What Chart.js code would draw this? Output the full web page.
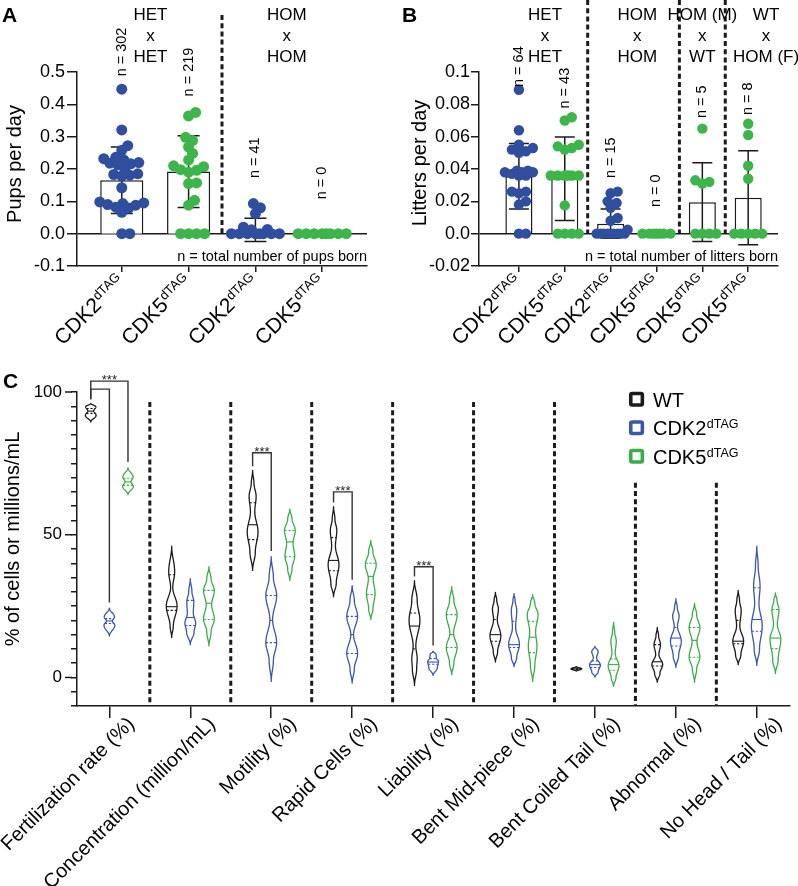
<!DOCTYPE html>
<html><head><meta charset="utf-8">
<script src="https://cdn.jsdelivr.net/npm/chart.js@4.4.1/dist/chart.umd.min.js"></script>
<style>
html,body{margin:0;padding:0;background:#fff;}
body{width:798px;height:886px;position:relative;overflow:hidden;}
canvas{position:absolute;}
</style></head>
<body>
<canvas id="cC" width="798" height="546" style="left:0;top:340px;width:798px;height:546px"></canvas>
<canvas id="cA" width="400" height="360" style="left:0;top:0;width:400px;height:360px"></canvas>
<canvas id="cB" width="398" height="360" style="left:400px;top:0;width:398px;height:360px"></canvas>
<script>
// ================= DATA =================
// Panel A : pups per day
const pupGenes = ['CDK2', 'CDK5', 'CDK2', 'CDK5'];
const tagSup = 'dTAG';
const pupCrosses = [['HET', 'x', 'HET'], ['HOM', 'x', 'HOM']];
const pupCounts = ['n = 302', 'n = 219', 'n = 41', 'n = 0'];
const pupMean = [0.165, 0.192, 0.012, 0];
const pupSD = [0.103, 0.111, 0.036, 0];
const pupsCDK2HET = [0.447, 0.321, 0.272, 0.258, 0.236, 0.232, 0.228, 0.22, 0.218, 0.216, 0.213, 0.2, 0.185, 0.183, 0.181, 0.178, 0.142, 0.098, 0.095, 0.093, 0.09, 0.088, 0.082, 0.079, 0.066, 0, 0];
const pupsCDK5HET = [0.375, 0.364, 0.298, 0.288, 0.268, 0.248, 0.228, 0.21, 0.207, 0.198, 0.196, 0.19, 0.157, 0.155, 0.103, 0.088, 0, 0, 0, 0];
const pupsCDK2HOM = [0.093, 0.08, 0.062, 0.02, 0.013, 0.012, 0, 0, 0, 0, 0, 0, 0, 0];
const pupsCDK5HOM = [0, 0, 0, 0, 0, 0, 0, 0];
const pupNote = 'n = total number of pups born';

// Panel B : litters per day
const litterGenes = ['CDK2', 'CDK5', 'CDK2', 'CDK5', 'CDK5', 'CDK5'];
const litterCrosses = [['HET', 'x', 'HET'], ['HOM', 'x', 'HOM'], ['HOM (M)', 'x', 'WT'], ['WT', 'x', 'HOM (F)']];
const litterCounts = ['n = 64', 'n = 43', 'n = 15', 'n = 0', 'n = 5', 'n = 8'];
const litterMean = [0.0355, 0.034, 0.0062, 0, 0.0195, 0.0222];
const litterSD = [0.0202, 0.0258, 0.009, 0, 0.0243, 0.0291];
const littersCDK2HET = [0.089, 0.064, 0.055, 0.053, 0.052, 0.051, 0.05, 0.039, 0.039, 0.038, 0.038, 0.038, 0.037, 0.036, 0.036, 0.026, 0.026, 0.025, 0.02, 0.018, 0, 0];
const littersCDK5HET = [0.072, 0.07, 0.055, 0.054, 0.053, 0.052, 0.036, 0.036, 0.036, 0.036, 0.036, 0.036, 0.0175, 0, 0, 0, 0];
const littersCDK2HOM = [0.026, 0.025, 0.02, 0.019, 0.016, 0.0097, 0.008, 0.0025, 0, 0, 0, 0, 0, 0, 0, 0, 0];
const littersCDK5HOM = [0, 0, 0, 0, 0, 0, 0];
const littersHOMMxWT = [0.065, 0.033, 0.032, 0.031, 0, 0, 0, 0];
const littersWTxHOMF = [0.068, 0.061, 0.042, 0.034, 0, 0, 0, 0, 0];
const litterNote = 'n = total number of litters born';

// Panel C : sperm parameters (violins: [min, Q1, median, Q3, max])
const spermParams = ['Fertilization rate (%)', 'Concentration (million/mL)', 'Motility (%)', 'Rapid Cells (%)', 'Liability (%)', 'Bent Mid-piece (%)', 'Bent Coiled Tail (%)', 'Abnormal (%)', 'No Head / Tail (%)'];
const genotypes = ['WT', 'CDK2', 'CDK5'];
const wtStats = [[89.5, 92.5, 93.3, 94.2, 96], [14, 23.5, 24.8, 36, 46], [37.5, 48.3, 53.5, 61.2, 72.5], [28.3, 37.4, 41, 49, 59.8], [-2.8, 10, 18, 22.6, 33.9], [5.4, 12.7, 15, 20.3, 29.8], [2.2, 2.8, 3, 3.2, 3.8], [-1.7, 4, 5.5, 11.5, 17.5], [4.5, 11.8, 12.7, 20, 30.5]];
const cdk2Stats = [[14.5, 18.9, 19.8, 20.6, 24.3], [11.5, 18.2, 21, 27, 34.6], [-1.4, 12.2, 20, 28.7, 42.3], [-2, 8.4, 15, 21.4, 32.2], [0.7, 4.6, 5.4, 6.6, 9.2], [3.8, 10.5, 11.5, 19.7, 29.4], [0.1, 3.5, 4.5, 5.8, 11], [3.5, 11, 13.8, 17.5, 27.6], [4.2, 16.2, 20.3, 31.4, 46]];
const cdk5Stats = [[64, 67.3, 68.5, 69.8, 73.5], [11, 20.3, 26, 30.5, 38.8], [34, 42.3, 47.5, 51.5, 59], [20.3, 29, 35.4, 40, 48], [1, 10.5, 15, 22, 31.8], [-1.4, 8.7, 14.1, 19.7, 29], [-3.1, 2.5, 4.5, 6.5, 19.3], [-1.7, 7.1, 13, 17.5, 25.9], [1.4, 10.1, 13.8, 23.8, 29.6]];
// relative density: [value, density]
const wtDensity = [[[91.8, 1], [93.4, 0.55], [94.8, 0.95]], [[18, 0.3], [25, 1], [31.5, 0.2], [37, 0.55]], [[44, 0.5], [51, 1], [58, 0.4], [63.5, 0.65], [68, 0.25]], [[33, 0.5], [39.5, 1], [46, 0.35], [51.5, 0.6], [55.5, 0.25]], [[3, 0.4], [6.5, 0.5], [11, 0.25], [20, 1], [27, 0.5]], [[9, 0.4], [14.5, 1], [20.3, 0.35], [24, 0.55], [27, 0.25]], [[3, 1]], [[1.5, 0.5], [4.5, 1], [8, 0.3], [11.5, 0.6], [14.5, 0.25]], [[8, 0.5], [12.7, 1], [18, 0.3], [23.5, 0.55], [27, 0.25]]];
const cdk2Density = [[[18.3, 1], [19.8, 0.55], [21.2, 0.95]], [[16, 0.7], [19, 1], [22.5, 0.55], [26.5, 0.65], [30, 0.3]], [[6, 0.4], [12.2, 1], [20.3, 0.25], [28.7, 1], [35, 0.4]], [[3, 0.4], [8.4, 1], [15, 0.25], [21.4, 1], [27, 0.4]], [[3.5, 0.8], [5.5, 1], [7, 0.6], [8, 0.55]], [[7, 0.5], [11.5, 1], [17.5, 0.3], [23.5, 0.5], [27, 0.2]], [[2, 0.6], [4.3, 1], [7, 0.3], [9, 0.6]], [[7.5, 0.5], [12.7, 1], [18, 0.3], [21.5, 0.6], [24.5, 0.25]], [[10, 0.5], [18, 1], [26, 0.4], [32, 0.6], [39, 0.25]]];
const cdk5Density = [[[67, 1], [68.5, 0.55], [70.2, 0.95]], [[16, 0.4], [20.5, 1], [25.5, 0.5], [30.5, 1], [34.5, 0.4]], [[38, 0.4], [42.5, 0.9], [47, 0.6], [51.5, 1], [55.5, 0.4]], [[24, 0.4], [29.5, 0.8], [34.5, 0.45], [39.5, 1], [44, 0.4]], [[5, 0.4], [10.5, 1], [15.5, 0.35], [22, 1], [27, 0.4]], [[4, 0.4], [11, 0.8], [16, 0.55], [22, 1], [26, 0.4]], [[0, 0.45], [4, 1], [8.5, 0.3], [12.7, 0.5], [16, 0.2]], [[3, 0.4], [7.1, 1], [12.5, 0.45], [17.5, 1], [22, 0.4]], [[6, 0.5], [13.5, 1], [18.5, 0.35], [23.8, 0.65], [27, 0.3]]];
// significance (WT vs. genotype within a parameter)
const sigParam = [0, 0, 2, 3, 4];
const sigVersus = ['CDK2', 'CDK5', 'CDK2', 'CDK2', 'CDK2'];
const sigLevel = [101, 103.8, 78.7, 65, 38.8];
const sigStars = ['', '***', '***', '***', '***'];

// ================= STYLE / HELPERS =================
const FONT = '"Liberation Sans", Arial, Helvetica, sans-serif';
const INK = '#1b1b1b';
const BLUE = '#2F4E9E', GREEN = '#3DB54A';
const BLUE_V = '#3A57A8', GREEN_V = '#39AE48';
Chart.defaults.font.family = FONT;
Chart.defaults.color = '#000';

function font(size, weight) { return (weight || '') + ' ' + size + 'px ' + FONT; }

function swarm(values, center, pxX, pxY, minDist, maxHalf) {
  const placed = [];
  const order = values.map((v, i) => ({ v, i })).sort((a, b) => a.v - b.v);
  const out = new Array(values.length);
  for (const { v, i } of order) {
    let best = 0, bestD = -1;
    for (let k = 0; k <= 2 * maxHalf; k++) {
      const off = (k % 2 ? 1 : -1) * Math.ceil(k / 2);
      let dmin = Infinity;
      for (const p of placed) dmin = Math.min(dmin, Math.hypot(off - p.off, (v - p.v) * pxY));
      if (dmin >= minDist) { best = off; bestD = dmin; break; }
      if (dmin > bestD) { bestD = dmin; best = off; }
    }
    placed.push({ off: best, v });
    out[i] = { x: center + best / pxX, y: v };
  }
  return out;
}

function supText(ctx, x, y, main, sup, mainSize, supSize, angle, align) {
  ctx.save();
  ctx.translate(x, y);
  ctx.rotate(angle);
  ctx.textBaseline = 'alphabetic';
  ctx.font = font(supSize); const sw = ctx.measureText(sup).width;
  ctx.font = font(mainSize); const mw = ctx.measureText(main).width;
  const x0 = align === 'right' ? -(sw + mw) : 0;
  ctx.textAlign = 'left';
  ctx.fillText(main, x0, 0);
  ctx.font = font(supSize);
  ctx.fillText(sup, x0 + mw + 0.5, -(0.716 * (mainSize - supSize) + 1.5));
  ctx.restore();
}

function dashedV(ctx, x, y0, y1) {
  ctx.save();
  ctx.strokeStyle = INK; ctx.lineWidth = 3; ctx.setLineDash([5, 3.2]);
  ctx.beginPath(); ctx.moveTo(x, y0); ctx.lineTo(x, y1); ctx.stroke();
  ctx.restore();
}

// ================= PANELS A & B =================
function breedingChart(canvasId, cfg) {
  const pxX = cfg.plotW / (cfg.xMax - cfg.xMin);
  const pxY = cfg.plotH / (cfg.yMax - cfg.yMin);
  const dotSets = cfg.dots.map((vals, i) => ({
    type: 'scatter', order: 1,
    data: swarm(vals, i, pxX, pxY, cfg.minDist, cfg.maxHalf),
    pointRadius: cfg.dotR, pointBackgroundColor: cfg.colors[i], pointBorderWidth: 0, pointHoverRadius: cfg.dotR
  }));
  const plugin = {
    id: 'breed' + canvasId,
    afterDatasetDraw(chart, args) {
      if (args.index !== 0) return;
      const { ctx, scales: { x, y } } = chart;
      ctx.save(); ctx.strokeStyle = INK; ctx.lineWidth = 1.5;
      cfg.mean.forEach((m, i) => {
        const sd = cfg.sd[i]; if (!sd) return;
        const px = x.getPixelForValue(i), t = y.getPixelForValue(m + sd), b = y.getPixelForValue(m - sd);
        ctx.beginPath();
        ctx.moveTo(px, t); ctx.lineTo(px, b);
        ctx.moveTo(px - cfg.cap, t); ctx.lineTo(px + cfg.cap, t);
        ctx.moveTo(px - cfg.cap, b); ctx.lineTo(px + cfg.cap, b);
        ctx.stroke();
      });
      ctx.restore();
    },
    afterDraw(chart) {
      const { ctx, scales: { x, y }, chartArea } = chart;
      const zero = y.getPixelForValue(0);
      cfg.seps.forEach(s => dashedV(ctx, x.getPixelForValue(s), cfg.sepTop, zero));
      ctx.save();
      ctx.fillStyle = '#000';
      // cross headers
      ctx.font = font(17); ctx.textAlign = 'center'; ctx.textBaseline = 'middle';
      cfg.crosses.forEach((lines, k) => {
        const px = x.getPixelForValue(cfg.crossPos[k]);
        lines.forEach((t, j) => ctx.fillText(t, px, chartArea.top - 57 + j * 21));
      });
      // n labels
      ctx.font = font(14.5);
      cfg.counts.forEach((t, i) => {
        ctx.save();
        ctx.translate(x.getPixelForValue(i), y.getPixelForValue(cfg.countPos[i]));
        ctx.rotate(-Math.PI / 2);
        ctx.fillText(t, 0, 0);
        ctx.restore();
      });
      // footnote
      ctx.textAlign = 'right'; ctx.font = font(14.5);
      ctx.fillText(cfg.note, chartArea.right, chartArea.bottom - 9);
      // y title
      ctx.save(); ctx.font = font(20); ctx.textAlign = 'center';
      ctx.translate(cfg.titleX, cfg.titleY); ctx.rotate(-Math.PI / 2);
      ctx.fillText(cfg.title, 0, 0); ctx.restore();
      // panel letter
      ctx.font = font(21, 'bold'); ctx.textAlign = 'left'; ctx.textBaseline = 'alphabetic';
      ctx.fillText(cfg.letter, 2, 22);
      // x labels
      cfg.genes.forEach((g, i) => supText(ctx, x.getPixelForValue(i) + 4, chartArea.bottom + 17, g, tagSup, 21, 13, -Math.PI / 4, 'right'));
      ctx.restore();
    }
  };
  return new Chart(document.getElementById(canvasId), {
    type: 'bar',
    data: {
      datasets: [{
        type: 'bar', order: 2,
        data: cfg.mean.map((m, i) => ({ x: i, y: m })),
        backgroundColor: '#fff', borderColor: INK, borderWidth: 1.5,
        barPercentage: cfg.barPct, categoryPercentage: 1
      }].concat(dotSets)
    },
    options: {
      responsive: false, animation: false, devicePixelRatio: 1, events: [],
      layout: { padding: { top: 72, right: cfg.padRight, left: 0, bottom: 0 } },
      plugins: { legend: { display: false }, tooltip: { enabled: false } },
      scales: {
        x: {
          type: 'linear', min: cfg.xMin, max: cfg.xMax, offset: false,
          afterBuildTicks: s => { s.ticks = cfg.genes.map((g, i) => ({ value: i })); },
          ticks: { display: false },
          grid: { drawOnChartArea: false, offset: false, tickLength: 6, tickColor: INK, lineWidth: 1.5 },
          border: { color: INK, width: 1.5 },
          afterFit: s => { s.height = 94; }
        },
        y: {
          min: cfg.yMin, max: cfg.yMax,
          ticks: { stepSize: cfg.step, color: '#000', font: { size: 18 }, padding: cfg.tickPad, callback: cfg.fmt },
          grid: { drawOnChartArea: true, color: c => Math.abs(c.tick.value) < 1e-9 ? INK : 'rgba(0,0,0,0)', tickColor: INK, tickLength: cfg.tickLen, lineWidth: 1.5 },
          border: { color: INK, width: 1.5 },
          afterFit: s => { s.width = cfg.yWidth; }
        }
      }
    },
    plugins: [plugin]
  });
}

breedingChart('cA', {
  genes: pupGenes, crosses: pupCrosses, crossPos: [0.43, 2.47], counts: pupCounts,
  countPos: [0.562, 0.5, 0.235, 0.157], mean: pupMean, sd: pupSD,
  dots: [pupsCDK2HET, pupsCDK5HET, pupsCDK2HOM, pupsCDK5HOM], colors: [BLUE, GREEN, BLUE, GREEN],
  note: pupNote, title: 'Pups per day', titleX: 15, titleY: 164, letter: 'A',
  xMin: -0.67, xMax: 3.67, yMin: -0.1, yMax: 0.5, step: 0.1, plotW: 290, plotH: 194,
  fmt: v => (Math.abs(v) < 1e-9 ? 0 : v).toFixed(1), yWidth: 77, padRight: 33, tickLen: 10, tickPad: 2,
  barPct: 0.645, cap: 11, dotR: 5.5, minDist: 7.5, maxHalf: 24,
  seps: [1.5], sepTop: 15
});

breedingChart('cB', {
  genes: litterGenes, crosses: litterCrosses, crossPos: [0.57, 2.58, 4.0, 5.39], counts: litterCounts,
  countPos: [0.1033, 0.09, 0.047, 0.0266, 0.0816, 0.0835], mean: litterMean, sd: litterSD,
  dots: [littersCDK2HET, littersCDK5HET, littersCDK2HOM, littersCDK5HOM, littersHOMMxWT, littersWTxHOMF],
  colors: [BLUE, GREEN, BLUE, GREEN, GREEN, GREEN],
  note: litterNote, title: 'Litters per day', titleX: 20, titleY: 163, letter: 'B',
  xMin: -0.87, xMax: 5.65, yMin: -0.02, yMax: 0.1, step: 0.02, plotW: 299, plotH: 194,
  fmt: v => { if (Math.abs(v) < 1e-9) return '0.0'; let s = String(+v.toFixed(2)); if (s.indexOf('.') < 0) s += '.0'; return s; },
  yWidth: 79, padRight: 20, tickLen: 8, tickPad: 1,
  barPct: 0.59, cap: 10, dotR: 5.2, minDist: 7, maxHalf: 17,
  seps: [1.5, 3.5, 4.5], sepTop: 0
});

// ================= PANEL C =================
const groupDefs = [
  { stats: wtStats, dens: wtDensity, color: INK, off: -0.23 },
  { stats: cdk2Stats, dens: cdk2Density, color: BLUE_V, off: 0 },
  { stats: cdk5Stats, dens: cdk5Density, color: GREEN_V, off: 0.23 }
];
const legendColors = [INK, BLUE_V, GREEN_V];

function halfWidthFn(stats, knots) {
  const pts = [[stats[0], 0]].concat(knots, [[stats[4], 0]]).sort((a, b) => a[0] - b[0]);
  return v => {
    for (let k = 0; k < pts.length - 1; k++) {
      const [a, wa] = pts[k], [b, wb] = pts[k + 1];
      if (v >= a && v <= b) {
        const t = b > a ? (v - a) / (b - a) : 0;
        const s = (1 - Math.cos(Math.PI * t)) / 2;
        return wa + (wb - wa) * s;
      }
    }
    return 0;
  };
}

const spermPlugin = {
  id: 'sperm',
  afterDatasetsDraw(chart) {
    const { ctx, scales: { x, y }, chartArea } = chart;
    // separators
    const sepTops = [96.5, 96.5, 96.5, 96.5, 96.5, 96.5, 68.2, 68.2];
    sepTops.forEach((t, i) => dashedV(ctx, x.getPixelForValue(i + 0.5), y.getPixelForValue(t), chartArea.bottom));
    // violins
    const W = 5.4;
    groupDefs.forEach(g => {
      g.stats.forEach((st, i) => {
        const cx = x.getPixelForValue(i + g.off);
        const hw = halfWidthFn(st, g.dens[i]);
        const [mn, q1, md, q3, mx] = st;
        const N = 60;
        ctx.save();
        ctx.strokeStyle = g.color; ctx.lineWidth = 1.3; ctx.lineJoin = 'round';
        ctx.beginPath();
        for (let k = 0; k <= N; k++) {
          const v = mn + (mx - mn) * k / N; const px = cx - W * hw(v), py = y.getPixelForValue(v);
          if (k) ctx.lineTo(px, py); else ctx.moveTo(px, py);
        }
        for (let k = N; k >= 0; k--) {
          const v = mn + (mx - mn) * k / N; ctx.lineTo(cx + W * hw(v), y.getPixelForValue(v));
        }
        ctx.closePath(); ctx.stroke();
        // quartiles (dashed) and median (solid)
        ctx.lineWidth = 1.1;
        [[q1, true], [q3, true], [md, false]].forEach(([v, dashed]) => {
          const w = W * hw(v); if (w < 0.5) return;
          ctx.setLineDash(dashed ? [2.2, 1.8] : []);
          const py = y.getPixelForValue(v);
          ctx.beginPath(); ctx.moveTo(cx - w, py); ctx.lineTo(cx + w, py); ctx.stroke();
        });
        ctx.restore();
      });
    });
    // significance brackets
    ctx.save();
    ctx.strokeStyle = '#333'; ctx.lineWidth = 1.4; ctx.fillStyle = '#222';
    sigParam.forEach((p, k) => {
      const g2 = genotypes.indexOf(sigVersus[k]);
      const x1 = x.getPixelForValue(p + groupDefs[0].off), x2 = x.getPixelForValue(p + groupDefs[g2].off);
      const yt = y.getPixelForValue(sigLevel[k]);
      const y1 = y.getPixelForValue(wtStats[p][4] + 1.5), y2 = y.getPixelForValue(groupDefs[g2].stats[p][4] + 2);
      ctx.beginPath(); ctx.moveTo(x1, y1); ctx.lineTo(x1, yt); ctx.lineTo(x2, yt); ctx.lineTo(x2, y2); ctx.stroke();
      if (sigStars[k]) {
        ctx.font = font(13); ctx.textAlign = 'center'; ctx.textBaseline = 'alphabetic';
        ctx.fillText(sigStars[k], (x1 + x2) / 2, yt + 3);
      }
    });
    ctx.restore();
  },
  afterDraw(chart) {
    const { ctx, scales: { x, y }, chartArea } = chart;
    ctx.save();
    // longer major ticks
    ctx.strokeStyle = INK; ctx.lineWidth = 1.5;
    [0, 50, 100].forEach(v => {
      const py = y.getPixelForValue(v);
      ctx.beginPath(); ctx.moveTo(chartArea.left - 12, py); ctx.lineTo(chartArea.left - 5, py); ctx.stroke();
    });
    ctx.fillStyle = '#000';
    // x labels
    ctx.font = font(20); ctx.textAlign = 'right'; ctx.textBaseline = 'alphabetic';
    spermParams.forEach((t, i) => {
      ctx.save();
      ctx.translate(x.getPixelForValue(i) + 26, chartArea.bottom + 19);
      ctx.rotate(-Math.PI / 4);
      ctx.fillText(t, 0, 0);
      ctx.restore();
    });
    // y title
    ctx.save(); ctx.font = font(20); ctx.textAlign = 'center'; ctx.textBaseline = 'middle';
    ctx.translate(13, 199); ctx.rotate(-Math.PI / 2);
    ctx.fillText('% of cells or millions/mL', 0, 0); ctx.restore();
    // legend
    const lx = x.getPixelForValue(6.42), ly = y.getPixelForValue(97.5);
    genotypes.forEach((g, k) => {
      const cy = ly + k * 28.5;
      ctx.strokeStyle = legendColors[k]; ctx.lineWidth = 3.6; ctx.setLineDash([]);
      ctx.beginPath();
      if (ctx.roundRect) ctx.roundRect(lx + 1.8, cy - 5.7, 11.6, 11.6, 1.5); else ctx.rect(lx + 1.8, cy - 5.7, 11.6, 11.6);
      ctx.stroke();
      ctx.fillStyle = '#000';
      if (g === 'WT') {
        ctx.font = font(20); ctx.textAlign = 'left'; ctx.textBaseline = 'alphabetic';
        ctx.fillText('WT', lx + 24, cy + 7.5);
      } else {
        supText(ctx, lx + 24, cy + 7.5, g, tagSup, 20, 12.5, 0, 'left');
      }
    });
    // panel letter
    ctx.font = font(21, 'bold'); ctx.textAlign = 'left'; ctx.textBaseline = 'alphabetic';
    ctx.fillText('C', 3, 48);
    ctx.restore();
  }
};

new Chart(document.getElementById('cC'), {
  type: 'scatter',
  data: {
    datasets: groupDefs.map((g, k) => ({
      label: genotypes[k],
      data: g.stats.map((s, i) => ({ x: i + g.off, y: s[2] })),
      pointRadius: 0, borderColor: g.color, backgroundColor: g.color
    }))
  },
  options: {
    responsive: false, animation: false, devicePixelRatio: 1, events: [],
    layout: { padding: { top: 52, right: 8, left: 0, bottom: 0 } },
    plugins: { legend: { display: false }, tooltip: { enabled: false } },
    scales: {
      x: {
        type: 'linear', min: -0.4, max: 8.41, offset: false,
        afterBuildTicks: s => { s.ticks = spermParams.map((p, i) => ({ value: i })); },
        ticks: { display: false },
        grid: { drawOnChartArea: false, tickLength: 12, tickColor: INK, lineWidth: 1.5 },
        border: { color: INK, width: 1.5 },
        afterFit: s => { s.height = 180; }
      },
      y: {
        min: -10, max: 100,
        ticks: { stepSize: 5, color: '#000', font: { size: 17 }, padding: 9, autoSkip: false, callback: v => (v % 50 === 0 ? String(v) : '') },
        grid: { drawOnChartArea: false, tickLength: 6, tickColor: INK, lineWidth: 1.5 },
        border: { color: INK, width: 1.5 },
        afterFit: s => { s.width = 77; }
      }
    }
  },
  plugins: [spermPlugin]
});
</script>
</body></html>
